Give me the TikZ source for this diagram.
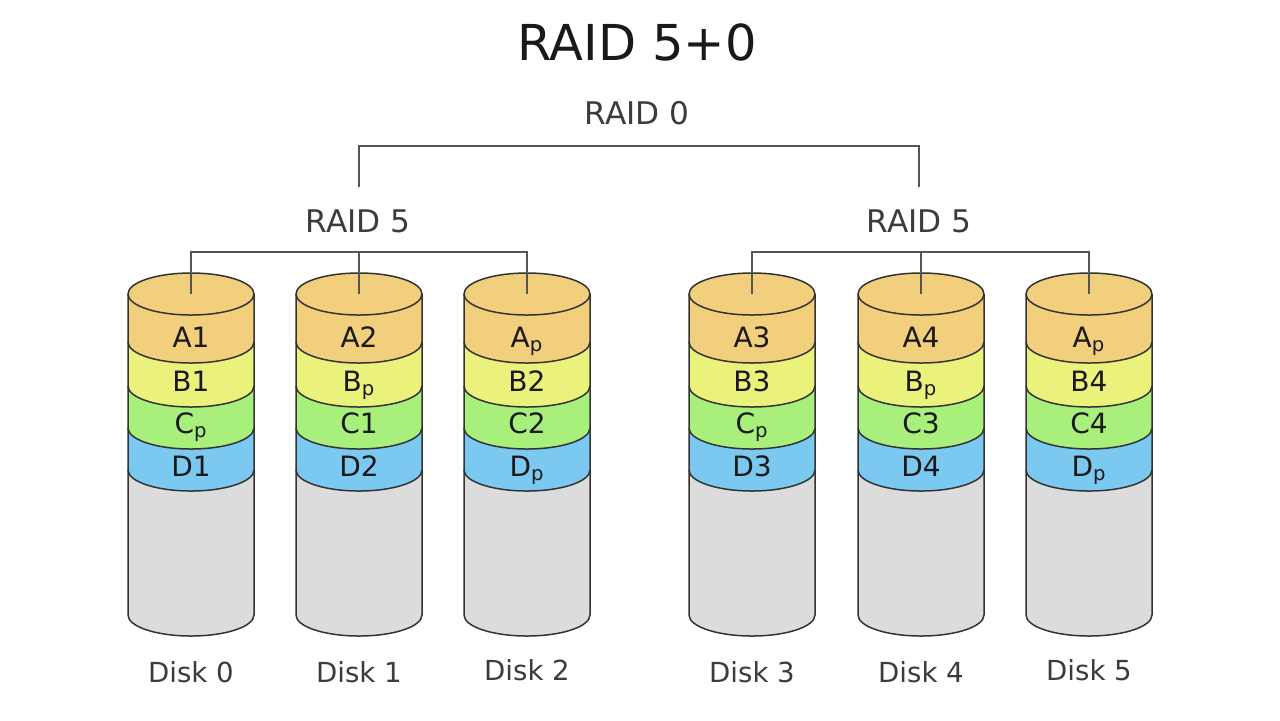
\documentclass[tikz,border=0pt]{standalone}
\usepackage{fontspec}
\setmainfont{DejaVu Sans}
\definecolor{cA}{HTML}{F2CF7C}
\definecolor{cB}{HTML}{EBF27C}
\definecolor{cC}{HTML}{A9EF7C}
\definecolor{cD}{HTML}{7BC8F0}
\definecolor{cG}{HTML}{DCDCDC}
\definecolor{edge}{HTML}{333333}
\definecolor{connc}{HTML}{555555}
\definecolor{lblc}{HTML}{3C3C3C}
\newcommand\parit[1]{#1\textsubscript{p}}
\begin{document}
\begin{tikzpicture}[x=0.5pt,y=0.5pt,
  layer/.style={draw=edge,line width=0.75pt,line join=round},
  conn/.style={draw=connc,line width=0.75pt},
  title/.style={anchor=base,inner sep=0pt,text=black!90,font=\fontsize{24.75pt}{28pt}\selectfont},
  grp/.style={anchor=base,inner sep=0pt,text=lblc,font=\fontsize{15.6pt}{18pt}\selectfont},
  disklbl/.style={anchor=base,inner sep=0pt,text=lblc,font=\fontsize{13.8pt}{16pt}\selectfont},
  cell/.style={anchor=base,inner sep=0pt,text=black!90,font=\fontsize{14pt}{16pt}\selectfont}]
\useasboundingbox (0,0) rectangle (1280,-720);
\fill[white] (0,0) rectangle (1280,-720);

\foreach \cx/\a/\b/\c/\d/\n/\ly in {
  191/A1/B1/\parit{C}/D1/0/682,
  359/A2/\parit{B}/C1/D2/1/682,
  527/\parit{A}/B2/C2/\parit{D}/2/680,
  752/A3/B3/\parit{C}/D3/3/682,
  921/A4/\parit{B}/C3/D4/4/682,
  1089/\parit{A}/B4/C4/\parit{D}/5/680}{
  % gray body
  \path[layer,fill=cG] ({\cx-63},-470) -- ({\cx-63},-615)
     arc[start angle=180,end angle=360,x radius=63,y radius=21] -- ({\cx+63},-470);
  \path[layer,fill=cD] ({\cx-63},-428) -- ({\cx-63},-470)
     arc[start angle=180,end angle=360,x radius=63,y radius=21] -- ({\cx+63},-428);
  \path[layer,fill=cC] ({\cx-63},-386) -- ({\cx-63},-428)
     arc[start angle=180,end angle=360,x radius=63,y radius=21] -- ({\cx+63},-386);
  \path[layer,fill=cB] ({\cx-63},-342) -- ({\cx-63},-386)
     arc[start angle=180,end angle=360,x radius=63,y radius=21] -- ({\cx+63},-342);
  \path[layer,fill=cA] ({\cx-63},-294) -- ({\cx-63},-342)
     arc[start angle=180,end angle=360,x radius=63,y radius=21] -- ({\cx+63},-294);
  \path[layer,fill=cA] (\cx,-294) ellipse[x radius=63,y radius=21];
  \coordinate (t\n) at (\cx,-294);
  \node[cell] (la\n) at (\cx,-347) {\a};
  \node[cell] (lb\n) at (\cx,-391) {\b};
  \node[cell] (lc\n) at (\cx,-433) {\c};
  \node[cell] (ld\n) at (\cx,-476) {\d};
  \node[disklbl] (dk\n) at (\cx,-\ly) {Disk \n};
}

\node[title] (ttl) at (637,-60) {RAID 5+0};
\node[grp] (r0) at (637,-124) {RAID 0};
\node[grp] (r5a) at (358,-232) {RAID 5};
\node[grp] (r5b) at (919,-232) {RAID 5};

% RAID 0 bracket
\coordinate (u1) at (359,-187);
\coordinate (u2) at (919,-187);
\coordinate (j0) at (639,-146);
\draw[conn] (u1) |- (j0) -| (u2);

% RAID 5 brackets
\coordinate (j1) at (359,-252);
\coordinate (j2) at (921,-252);
\draw[conn] (t0) |- (j1) -| (t2);
\draw[conn] (t1) -- (j1);
\draw[conn] (t3) |- (j2) -| (t5);
\draw[conn] (t4) -- (j2);
\end{tikzpicture}
\end{document}
